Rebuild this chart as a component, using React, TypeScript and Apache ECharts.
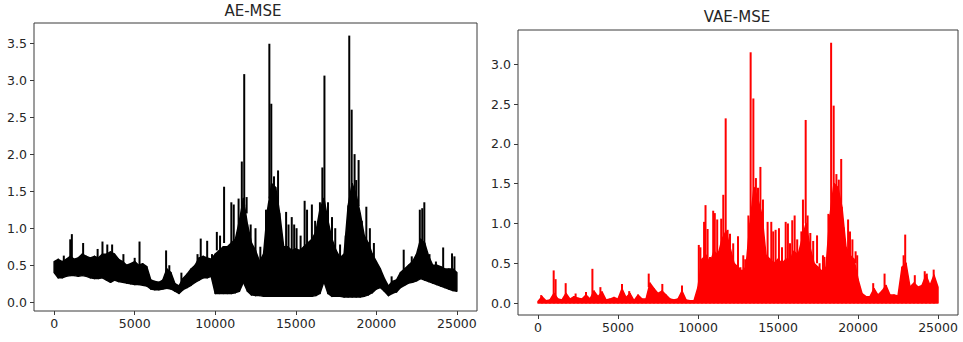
import React, { useEffect, useRef } from "react";
import * as echarts from "echarts";

// ---- data (bins every 250 samples, 0..25000) ----
const X_STEP = 250;

// AE-MSE: lower edge of the dense band
const aeLo = [
  0.40, 0.33, 0.33, 0.35, 0.36, 0.36, 0.35, 0.36, 0.35, 0.33,
  0.32, 0.32, 0.33, 0.30, 0.27, 0.30, 0.28, 0.27, 0.26, 0.25,
  0.24, 0.24, 0.23, 0.22, 0.18, 0.17, 0.17, 0.18, 0.19, 0.18,
  0.15, 0.12, 0.17, 0.20, 0.23, 0.27, 0.30, 0.33, 0.33, 0.35,
  0.12, 0.12, 0.12, 0.12, 0.12, 0.13, 0.15, 0.27, 0.15, 0.10,
  0.09, 0.09, 0.08, 0.08, 0.08, 0.08, 0.08, 0.08, 0.08, 0.08,
  0.08, 0.08, 0.08, 0.08, 0.08, 0.09, 0.12, 0.28, 0.12, 0.08,
  0.08, 0.08, 0.07, 0.07, 0.07, 0.07, 0.07, 0.08, 0.10, 0.13,
  0.18, 0.20, 0.15, 0.09, 0.12, 0.14, 0.20, 0.23, 0.26, 0.27,
  0.29, 0.32, 0.30, 0.28, 0.26, 0.24, 0.22, 0.20, 0.18, 0.16,
  0.15,
];

// AE-MSE: upper edge of the solid band
const aeBody = [
  0.55, 0.58, 0.55, 0.58, 0.62, 0.58, 0.60, 0.65, 0.62, 0.60,
  0.62, 0.60, 0.65, 0.65, 0.68, 0.65, 0.58, 0.55, 0.50, 0.52,
  0.55, 0.50, 0.52, 0.48, 0.30, 0.28, 0.27, 0.30, 0.45, 0.40,
  0.25, 0.22, 0.32, 0.38, 0.45, 0.50, 0.60, 0.62, 0.60, 0.58,
  0.65, 0.70, 0.75, 0.75, 0.80, 0.85, 1.10, 1.40, 1.05, 0.80,
  0.70, 0.55, 0.65, 1.25, 1.60, 1.55, 1.20, 0.75, 0.75, 0.70,
  0.72, 0.70, 0.75, 0.80, 0.85, 0.95, 1.25, 1.40, 1.10, 0.85,
  0.70, 0.60, 0.65, 1.30, 1.60, 1.45, 1.20, 0.90, 0.80, 0.65,
  0.55, 0.45, 0.32, 0.22, 0.28, 0.30, 0.40, 0.45, 0.50, 0.55,
  0.65, 0.85, 0.80, 0.62, 0.50, 0.50, 0.48, 0.45, 0.45, 0.45,
  0.40,
];

// AE-MSE: isolated spikes [sample, base, top]
const aeSpikes = [
  [600, 0.5, 0.63], [1000, 0.5, 0.85], [1100, 0.55, 0.92], [1800, 0.6, 0.8],
  [2700, 0.55, 0.72], [3000, 0.6, 0.82], [3300, 0.6, 0.78], [3600, 0.6, 0.78],
  [4300, 0.5, 0.65], [5000, 0.5, 0.6], [5300, 0.5, 0.82], [6950, 0.4, 0.7],
  [7150, 0.35, 0.5], [7900, 0.25, 0.4], [8900, 0.5, 0.65], [9100, 0.6, 0.86],
  [9500, 0.6, 0.83], [9800, 0.55, 0.65], [10100, 0.7, 0.95], [10300, 0.7, 0.9],
  [10550, 0.8, 1.56], [11000, 0.8, 1.35], [11150, 0.8, 1.32], [11450, 1.0, 1.4],
  [11650, 1.2, 1.9], [11800, 1.3, 3.08], [11950, 1.2, 1.42], [12200, 0.8, 1.05],
  [12500, 0.6, 1.0], [12800, 0.5, 0.75], [13150, 0.8, 1.25], [13360, 1.4, 3.49],
  [13480, 1.5, 2.68], [13650, 1.4, 1.7], [13900, 1.2, 1.78], [14400, 0.7, 1.22],
  [14550, 0.7, 1.05], [14750, 0.7, 1.15], [14900, 0.7, 1.05], [15050, 0.7, 1.0],
  [15300, 0.7, 0.9], [15550, 0.7, 1.37], [15700, 0.7, 1.25], [16000, 0.8, 1.32],
  [16200, 0.8, 1.1], [16500, 1.0, 1.35], [16650, 1.2, 1.82], [16780, 1.3, 3.06],
  [17000, 1.0, 1.35], [17250, 0.8, 1.15], [17450, 0.7, 1.0], [17750, 0.6, 0.78],
  [18100, 0.7, 0.9], [18250, 1.0, 1.25], [18320, 1.3, 3.6], [18470, 1.5, 2.6],
  [18650, 1.4, 2.0], [18750, 1.4, 1.65], [18900, 1.3, 1.92], [19100, 0.9, 1.1],
  [19380, 0.8, 1.29], [19600, 0.7, 1.0], [19850, 0.6, 0.8], [20950, 0.25, 0.35],
  [21700, 0.4, 0.71], [22200, 0.5, 0.62], [22700, 0.7, 1.25], [22850, 0.8, 1.27],
  [22980, 0.75, 1.35], [23300, 0.55, 0.65], [23700, 0.45, 0.55], [24150, 0.45, 0.74],
  [24700, 0.45, 0.66], [24850, 0.4, 0.62],
];

// VAE-MSE: upper edge of the solid red area (from 0)
const vaeBody = [
  0.02, 0.08, 0.03, 0.04, 0.12, 0.05, 0.04, 0.12, 0.05, 0.08,
  0.06, 0.05, 0.10, 0.05, 0.15, 0.08, 0.14, 0.04, 0.05, 0.07,
  0.05, 0.18, 0.07, 0.12, 0.03, 0.10, 0.05, 0.05, 0.25, 0.18,
  0.12, 0.15, 0.10, 0.05, 0.04, 0.05, 0.15, 0.04, 0.03, 0.03,
  0.20, 0.55, 0.60, 0.50, 0.65, 0.60, 0.80, 0.90, 0.70, 0.50,
  0.45, 0.40, 0.45, 1.00, 1.45, 1.30, 1.10, 0.60, 0.55, 0.50,
  0.55, 0.50, 0.55, 0.55, 0.65, 0.60, 0.80, 1.00, 0.70, 0.50,
  0.45, 0.40, 0.45, 1.10, 1.50, 1.45, 1.20, 0.70, 0.60, 0.55,
  0.30, 0.12, 0.08, 0.08, 0.18, 0.10, 0.15, 0.22, 0.10, 0.10,
  0.09, 0.45, 0.50, 0.20, 0.25, 0.20, 0.22, 0.35, 0.22, 0.35,
  0.20,
];

// VAE-MSE: isolated spikes [sample, base, top]
const vaeSpikes = [
  [200, 0.02, 0.1], [980, 0.05, 0.41], [1100, 0.05, 0.3], [1730, 0.1, 0.25],
  [2350, 0.05, 0.12], [3000, 0.05, 0.14], [3400, 0.1, 0.43], [3900, 0.1, 0.2],
  [5250, 0.1, 0.24], [5700, 0.05, 0.15], [6920, 0.2, 0.37], [7770, 0.1, 0.24],
  [9000, 0.1, 0.22], [10050, 0.2, 0.73], [10150, 0.3, 0.7], [10380, 0.5, 1.02],
  [10470, 0.5, 1.23], [10600, 0.4, 0.93], [10750, 0.4, 0.58], [10950, 0.5, 1.16],
  [11050, 0.5, 1.13], [11200, 0.5, 1.05], [11300, 0.5, 0.65], [11450, 0.6, 1.06],
  [11580, 0.7, 1.36], [11730, 0.8, 2.32], [11850, 0.7, 0.92], [12000, 0.5, 0.87],
  [12200, 0.5, 0.75], [12500, 0.4, 0.84], [12650, 0.4, 0.45], [12830, 0.4, 0.6],
  [12950, 0.4, 0.55], [13150, 0.6, 1.1], [13290, 1.0, 3.15], [13460, 1.2, 2.57],
  [13620, 1.2, 1.57], [13750, 1.2, 1.45], [13900, 1.0, 1.71], [14060, 0.8, 1.3],
  [14350, 0.5, 1.02], [14580, 0.5, 1.02], [14700, 0.5, 0.9], [14850, 0.5, 0.92],
  [15060, 0.5, 0.94], [15250, 0.5, 0.7], [15480, 0.5, 1.02], [15620, 0.5, 1.0],
  [15750, 0.5, 0.75], [15890, 0.6, 1.04], [16040, 0.6, 1.1], [16200, 0.6, 0.8],
  [16460, 0.7, 0.9], [16560, 0.8, 1.3], [16730, 1.0, 2.3], [16850, 0.8, 1.1],
  [17020, 0.6, 0.88], [17200, 0.5, 0.78], [17440, 0.5, 0.85], [17600, 0.4, 0.5],
  [17810, 0.4, 0.6], [17900, 0.4, 0.58], [18150, 0.5, 1.12], [18320, 1.0, 3.27],
  [18480, 1.3, 2.48], [18650, 1.3, 1.62], [18800, 1.3, 1.55], [18950, 1.2, 1.81],
  [19100, 0.7, 0.95], [19380, 0.6, 1.05], [19500, 0.6, 0.9], [19650, 0.5, 0.8],
  [19850, 0.5, 0.65], [19950, 0.3, 0.6], [20950, 0.1, 0.25], [21660, 0.15, 0.37],
  [22850, 0.4, 0.6], [22950, 0.4, 0.86], [23550, 0.2, 0.35], [24170, 0.25, 0.4],
  [24300, 0.25, 0.37], [24730, 0.3, 0.42],
];

const xTicks = [0, 5000, 10000, 15000, 20000, 25000];
const aeYTicks = [0, 0.5, 1.0, 1.5, 2.0, 2.5, 3.0, 3.5];
const vaeYTicks = [0, 0.5, 1.0, 1.5, 2.0, 2.5, 3.0];
const titles = ["AE-MSE", "VAE-MSE"];

const FONT = "DejaVu Sans";
const TXT = "#262626";
const SPINE = "#3a3a3a";

// band between two edges, one quad per bin: [x0, lo0, hi0, x1, lo1, hi1]
function bandSeries(lo: number[], hi: number[], idx: number, color: string) {
  const data: number[][] = [];
  for (let i = 0; i < hi.length - 1; i++) {
    data.push([i * X_STEP, lo[i], hi[i], (i + 1) * X_STEP, lo[i + 1], hi[i + 1]]);
  }
  return {
    type: "custom",
    xAxisIndex: idx,
    yAxisIndex: idx,
    coordinateSystem: "cartesian2d",
    data,
    encode: { x: [0, 3], y: [1, 2, 4, 5] },
    z: 2,
    renderItem: (_p: any, api: any) => {
      const a = api.coord([api.value(0), api.value(1)]);
      const b = api.coord([api.value(3), api.value(4)]);
      const c = api.coord([api.value(3), api.value(5)]);
      const d = api.coord([api.value(0), api.value(2)]);
      return {
        type: "polygon",
        shape: { points: [a, b, c, d] },
        style: { fill: color, stroke: color, lineWidth: 1.5, lineJoin: "round" },
      };
    },
  };
}

function spikeSeries(data: number[][], idx: number, color: string) {
  return {
    type: "custom",
    xAxisIndex: idx,
    yAxisIndex: idx,
    coordinateSystem: "cartesian2d",
    data,
    encode: { x: 0, y: [1, 2] },
    z: 3,
    renderItem: (_p: any, api: any) => {
      const x = api.value(0);
      const a = api.coord([x, api.value(1)]);
      const b = api.coord([x, api.value(2)]);
      return {
        type: "line",
        shape: { x1: a[0], y1: a[1], x2: b[0], y2: b[1] },
        style: { stroke: color, lineWidth: 2 },
      };
    },
  };
}

function xAxis(idx: number) {
  return {
    type: "value",
    gridIndex: idx,
    min: -1250,
    max: 26250,
    axisLine: { show: false, onZero: false },
    splitLine: { show: false },
    axisTick: {
      show: true,
      length: 4,
      customValues: xTicks,
      lineStyle: { color: SPINE, width: 1 },
    },
    axisLabel: {
      customValues: xTicks,
      margin: 6,
      fontSize: 12.5,
      fontFamily: FONT,
      color: TXT,
      formatter: (v: number) => String(Math.round(v)),
    },
  };
}

function yAxis(idx: number, min: number, max: number, ticks: number[]) {
  return {
    type: "value",
    gridIndex: idx,
    min,
    max,
    axisLine: { show: false, onZero: false },
    splitLine: { show: false },
    axisTick: {
      show: true,
      length: 4,
      customValues: ticks,
      lineStyle: { color: SPINE, width: 1 },
    },
    axisLabel: {
      customValues: ticks,
      margin: 7,
      fontSize: 12.5,
      fontFamily: FONT,
      color: TXT,
      formatter: (v: number) => v.toFixed(1),
    },
  };
}

export default function App() {
  const ref = useRef<HTMLDivElement>(null);

  useEffect(() => {
    if (!ref.current) return;
    const chart = echarts.init(ref.current, undefined, { renderer: "svg" });
    const vaeZero = vaeBody.map(() => 0);

    chart.setOption({
      animation: false,
      backgroundColor: "#ffffff",
      graphic: [
        {
          type: "text",
          x: 253,
          y: 11,
          style: {
            text: titles[0],
            textAlign: "center",
            textVerticalAlign: "middle",
            fontSize: 15,
            fontFamily: FONT,
            fill: TXT,
          },
        },
        {
          type: "text",
          x: 737,
          y: 17,
          style: {
            text: titles[1],
            textAlign: "center",
            textVerticalAlign: "middle",
            fontSize: 15,
            fontFamily: FONT,
            fill: TXT,
          },
        },
      ],
      grid: [
        {
          left: 34,
          top: 23,
          width: 443,
          height: 288,
          show: true,
          borderColor: SPINE,
          borderWidth: 1,
          backgroundColor: "transparent",
        },
        {
          left: 518,
          top: 30,
          width: 440,
          height: 285,
          show: true,
          borderColor: SPINE,
          borderWidth: 1,
          backgroundColor: "transparent",
        },
      ],
      xAxis: [xAxis(0), xAxis(1)],
      yAxis: [
        yAxis(0, -0.1176, 3.77, aeYTicks),
        yAxis(1, -0.15, 3.43, vaeYTicks),
      ],
      series: [
        bandSeries(aeLo, aeBody, 0, "#000000"),
        spikeSeries(aeSpikes, 0, "#000000"),
        bandSeries(vaeZero, vaeBody, 1, "#ff0000"),
        spikeSeries(vaeSpikes, 1, "#ff0000"),
      ],
    });

    return () => chart.dispose();
  }, []);

  return (
    <div
      ref={ref}
      style={{
        position: "absolute",
        left: 0,
        top: 0,
        width: 963,
        height: 342,
        background: "#fff",
      }}
    />
  );
}
